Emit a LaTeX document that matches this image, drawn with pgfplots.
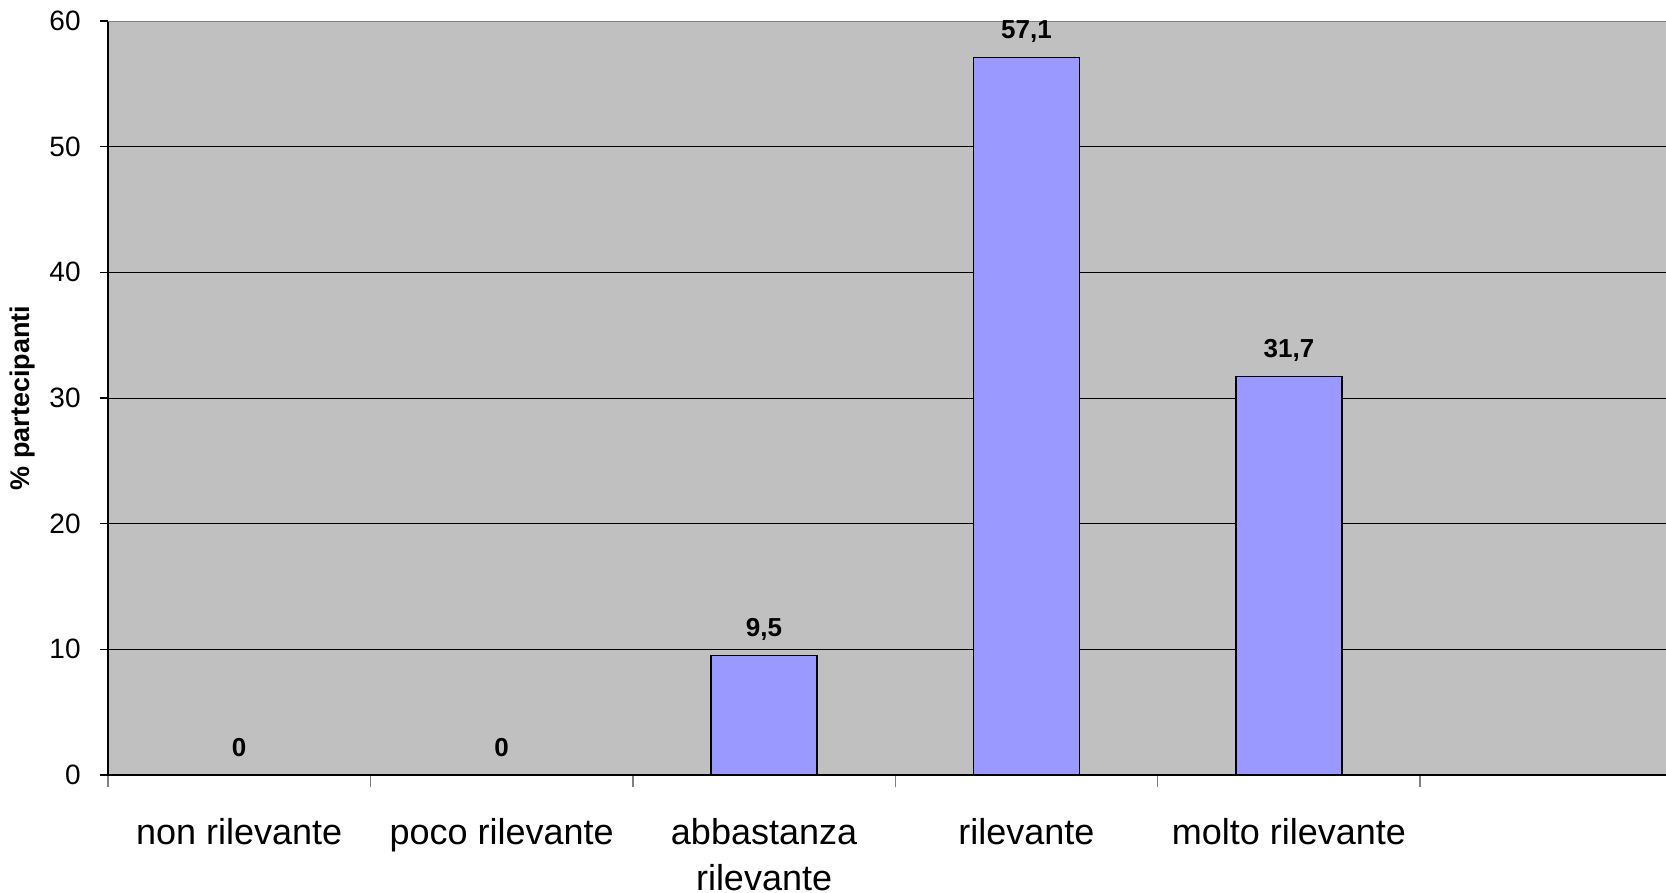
\documentclass[border=0pt]{standalone}
\usepackage{fontspec}
\setmainfont{Liberation Sans}
\usepackage{pgfplots}
\pgfplotsset{compat=1.18}
\definecolor{plotbg}{HTML}{C0C0C0}
\definecolor{barfill}{HTML}{9999FF}
\definecolor{edgegray}{HTML}{808080}
\begin{document}
\begin{tikzpicture}
\useasboundingbox (-54bp,-59bp) rectangle (779bp,387.5bp);
\begin{axis}[
  at={(0,0)}, anchor=south west,
  scale only axis,
  width=779bp, height=377bp,
  xmin=-0.5, xmax=5.437,
  ymin=0, ymax=60,
  ytick={0,10,...,60},
  xtick={0,1,2,3,4},
  xticklabels={non rilevante, poco rilevante, abbastanza\\rilevante, rilevante, molto rilevante},
  minor xtick={-0.5,0.5,...,5.5},
  major x tick style={draw=none},
  minor x tick style={edgegray, line width=0.75bp},
  y tick style={black, line width=0.6bp},
  minor tick length=6bp,
  major tick length=4bp,
  tick align=outside,
  axis x line*=bottom,
  axis y line*=left,
  axis line style={black, line width=0.75bp},
  axis background/.style={fill=plotbg},
  ymajorgrids,
  grid style={black, line width=0.5bp},
  ybar, bar width=0.404,
  yticklabel style={font=\fontsize{14bp}{16bp}\selectfont, anchor=east, inner sep=0pt, xshift=-9.5bp},
  xticklabel style={font=\fontsize{18bp}{23bp}\selectfont, align=center, anchor=north, inner sep=0pt, yshift=-17.5bp},
  ylabel={\% partecipanti},
  ylabel style={font=\fontsize{13.5bp}{15bp}\selectfont\bfseries, at={(axis description cs:0,0.5)}, anchor=center, yshift=42.5bp},
  nodes near coords,
  nodes near coords style={font=\fontsize{13bp}{15bp}\selectfont\bfseries, anchor=base, inner sep=0pt, yshift=9.5bp},
  /pgf/number format/.cd, use comma, fixed, precision=1, assume math mode=true,
]
\addplot[fill=barfill, draw=black, line width=0.6bp] coordinates {
  (0,0) (1,0) (2,9.5) (3,57.1) (4,31.7)
};
\draw[edgegray, line width=1bp] (rel axis cs:0,1) -- (rel axis cs:1,1);
\end{axis}
\end{tikzpicture}
\end{document}
